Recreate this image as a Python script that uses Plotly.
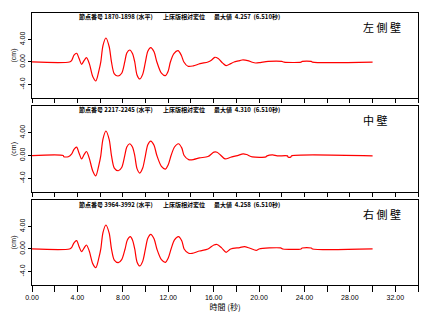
import plotly.graph_objects as go

# Relative displacement time histories (cm) for three wall locations
t_left = [0, 3.3, 3.5, 3.7, 3.93, 4.15, 4.37, 4.6, 4.8, 5.05, 5.35, 5.62, 5.9, 6.06, 6.25,
          6.51, 6.8, 7.0, 7.25, 7.58, 7.9, 8.17, 8.35, 8.61, 8.85, 9.05, 9.25, 9.49, 9.75,
          9.99, 10.2, 10.46, 10.75, 11.0, 11.4, 11.75, 12.0, 12.19, 12.5, 12.86, 13.15,
          13.38, 13.74, 14.2, 14.8, 15.5, 15.8, 16.1, 16.4, 16.8, 17.1, 17.5, 17.8, 18.2,
          18.5, 19.0, 19.4, 19.7, 20.1, 20.8, 22.0, 22.2, 23.7, 23.8, 24.6, 24.7, 30.0]
y_left = [0, 0, 0.3, 1.2, 1.55, 0.6, -0.41, 0.3, 0.77, -0.3, -2.6, -3.38, -1.5, 0, 2.9,
          4.257, 2.7, 0, -2.1, -2.49, -2.0, 0, 1.6, 2.13, 1.5, 0, -2.3, -3.02, -2.2,
          0, 1.9, 2.55, 1.8, 0, -2.0, -2.43, -1.6, 0, 1.5, 2.01, 1.2,
          0, -0.77, -0.7, -0.3, 0, 0.3, 0.83, 0.6, -0.2, -0.65, -0.3, 0, 0.2,
          0.35, 0.25, -0.05, -0.18, -0.1, 0.1, 0.1, -0.03, -0.03, 0.1, 0.1, -0.03, -0.03]

t_mid = [0, 2.75, 2.8, 3.2, 3.5, 3.7, 3.93, 4.15, 4.37, 4.6, 4.8, 5.05, 5.35, 5.62, 5.9,
         6.06, 6.25, 6.51, 6.8, 7.0, 7.25, 7.6, 7.9, 8.17, 8.35, 8.6, 8.85, 9.05, 9.25,
         9.49, 9.75, 9.99, 10.2, 10.46, 10.75, 11.0, 11.4, 11.75, 12.0, 12.25, 12.55,
         12.9, 13.2, 13.4, 13.8, 14.2, 14.76, 15.5, 16.02, 16.3, 16.6, 17.0, 17.5, 18.1,
         18.6, 18.9, 19.4, 20.6, 20.7, 21.2, 21.6, 22.5, 22.55, 22.8, 22.85, 30.0]
y_mid = [0, 0, -0.2, -0.2, 0.3, 1.1, 1.48, 0.4, -0.6, 0.2, 0.71, -0.5, -2.7, -3.56, -1.6,
         0, 2.9, 4.31, 2.8, 0, -2.2, -2.67, -2.1, 0, 1.5, 2.07, 1.5, 0, -2.3,
         -3.08, -2.2, 0, 1.9, 2.55, 1.8, 0, -1.9, -2.37, -1.6, 0, 1.5,
         2.07, 1.3, 0, -0.71, -0.71, -0.41, -0.18, 0.59, 0.59, 0.1, -0.59, -0.3, 0,
         0.3, 0.18, -0.24, -0.24, -0.06, 0.12, -0.06, -0.06, -0.24, -0.24, -0.06, -0.06]

t_right = [0, 3.3, 3.5, 3.7, 3.93, 4.15, 4.37, 4.6, 4.8, 5.05, 5.35, 5.62, 5.9, 6.06, 6.25,
           6.51, 6.8, 7.0, 7.25, 7.6, 7.9, 8.2, 8.4, 8.66, 8.85, 9.05, 9.25, 9.49, 9.75,
           9.99, 10.2, 10.46, 10.75, 11.0, 11.4, 11.75, 12.0, 12.25, 12.55, 12.9, 13.2,
           13.4, 13.8, 14.1, 14.76, 15.5, 16.02, 16.3, 16.7, 17.1, 17.5, 18.3, 18.7, 19.2,
           19.75, 20.0, 20.9, 21.9, 22.1, 23.7, 23.8, 24.6, 24.7, 30.0]
y_right = [0, 0, 0.3, 1.1, 1.48, 0.4, -0.47, 0.2, 0.71, -0.4, -2.6, -3.32, -1.5, 0, 2.9,
           4.258, 2.8, 0, -2.0, -2.43, -1.9, 0, 1.6, 2.19, 1.6, 0, -2.3, -3.02, -2.2,
           0, 1.9, 2.6, 1.8, 0, -1.9, -2.37, -1.6, 0, 1.6, 2.19, 1.4,
           0, -0.77, -0.77, -0.36, 0, 0.71, 0.8, 0.2, -0.59, 0, 0.24, 0.41, 0.12,
           -0.24, 0, 0.18, 0.18, 0, 0, 0.18, 0.18, 0, 0]

node_labels = ["節点番号 1870-1898 (水平)", "節点番号 2217-2245 (水平)", "節点番号 3964-3992 (水平)"]
quantity_label = "上床版相対変位"
max_values = [4.257, 4.310, 4.258]
max_times = [6.510, 6.510, 6.510]
wall_labels = ["左側壁", "中壁", "右側壁"]

x_tickvals = list(range(0, 35, 2))
x_ticktext = [f"{v:.2f}" if v % 4 == 0 and v <= 32 else "" for v in x_tickvals]
y_tickvals = [-4, 0, 4]
y_ticktext = ["-4.0", "0.00", "4.00"]

W, H = 430, 325
ML, MR, MT, MB = 32, 12, 13, 40
PW, PH = W - ML - MR, H - MT - MB


def px_x(px):
    return (px - ML) / PW


def px_y(py):
    return (H - MB - py) / PH


# Panel pixel extents (top, bottom)
panels = [(13, 98), (106, 192), (200, 285)]
series = [(t_left, y_left), (t_mid, y_mid), (t_right, y_right)]

CJK = "Noto Sans CJK JP"
NUM = "Liberation Sans"

fig = go.Figure()
layout = dict(
    template="none",
    width=W, height=H,
    margin=dict(l=ML, r=MR, t=MT, b=MB),
    paper_bgcolor="white", plot_bgcolor="white",
    font=dict(color="black"),
    showlegend=False,
)
annotations = []

for i, ((top, bot), (tt, yy)) in enumerate(zip(panels, series)):
    n = "" if i == 0 else str(i + 1)
    fig.add_trace(go.Scatter(
        x=tt, y=yy, mode="lines", xaxis="x" + n, yaxis="y" + n,
        line=dict(color="#ff0000", width=1.2, shape="spline", smoothing=0.8),
        hoverinfo="skip",
    ))
    last = i == 2
    layout["xaxis" + n] = dict(
        domain=[0, 1], anchor="y" + n, range=[0, 34],
        tickmode="array", tickvals=x_tickvals,
        ticktext=x_ticktext if last else [""] * len(x_tickvals),
        showticklabels=last,
        ticks="outside", ticklen=6 if last else 4, tickwidth=1, tickcolor="black",
        showline=True, linecolor="black", linewidth=1, mirror=True,
        showgrid=False, zeroline=False,
        tickfont=dict(family=NUM, size=7, color="black"),
        title=dict(text="時間 (秒)", font=dict(family=CJK, size=8, color="black"),
                   standoff=2) if last else None,
        fixedrange=True,
    )
    if i > 0:
        layout["xaxis" + n]["matches"] = "x"
    layout["yaxis" + n] = dict(
        domain=[px_y(bot), px_y(top)], anchor="x" + n, range=[-6.4, 8.7],
        tickmode="array", tickvals=y_tickvals, ticktext=y_ticktext,
        ticks="outside", ticklen=3, tickwidth=1, tickcolor="black",
        tickangle=-90, tickfont=dict(family=NUM, size=7, color="black"),
        showline=True, linecolor="black", linewidth=1, mirror=True,
        showgrid=False, zeroline=False,
        title=dict(text="(cm)", font=dict(family=NUM, size=7, color="black"), standoff=1),
        fixedrange=True,
    )
    # Header line inside each panel
    head_font = dict(family=CJK, size=6, color="black", weight="bold")
    annotations.append(dict(
        x=px_x(116), y=px_y(top + 4), xref="paper", yref="paper",
        text=node_labels[i], showarrow=False, xanchor="center", yanchor="middle",
        font=head_font,
    ))
    annotations.append(dict(
        x=px_x(184), y=px_y(top + 4), xref="paper", yref="paper",
        text=quantity_label, showarrow=False, xanchor="center", yanchor="middle",
        font=head_font,
    ))
    annotations.append(dict(
        x=px_x(247), y=px_y(top + 4), xref="paper", yref="paper",
        text=f"最大値  {max_values[i]:.3f}  ({max_times[i]:.3f}秒)", showarrow=False,
        xanchor="center", yanchor="middle",
        font=head_font,
    ))
    annotations.append(dict(
        x=px_x(361), y=px_y(top + 14), xref="paper", yref="paper",
        text=" ".join(wall_labels[i]), showarrow=False, xanchor="left", yanchor="middle",
        font=dict(family=CJK, size=11, color="black"),
    ))

layout["annotations"] = annotations
fig.update_layout(**layout)
fig.write_html("out.html", config={"displayModeBar": False})
